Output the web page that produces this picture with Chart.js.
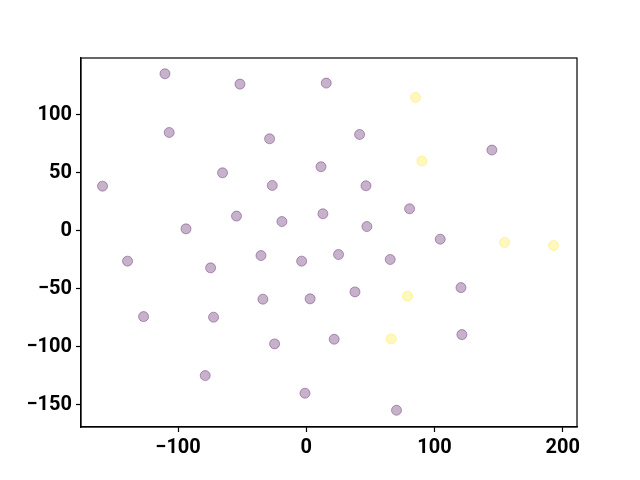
<!DOCTYPE html>
<html>
<head>
<meta charset="utf-8">
<script src="https://cdn.jsdelivr.net/npm/chart.js@4/dist/chart.umd.min.js"></script>
<style>
html,body{margin:0;padding:0;background:#fff;}
#wrap{width:640px;height:480px;position:relative;}
</style>
</head>
<body>
<div id="wrap"><canvas id="c" width="640" height="480"></canvas></div>
<script>
const purpleX = [-110.2,-51.7,-106.9,-28.6,-65.3,-158.9,-26.5,11.5,-54.4,-19.0,-93.8,13.0,15.6,41.6,144.8,46.6,80.6,47.3,104.5,-139.4,-74.6,-35.3,-3.6,-126.9,-72.3,-33.8,3.0,-24.7,-78.8,-1.0,25.2,65.5,38.0,120.7,21.8,121.4,70.4];
const purpleY = [135.3,126.4,84.7,79.3,50.0,38.5,39.1,55.2,12.7,8.0,1.7,14.7,127.3,83.0,69.6,38.8,19.0,3.7,-7.2,-26.1,-31.9,-21.3,-26.1,-73.9,-74.4,-58.9,-58.6,-97.4,-124.7,-139.9,-20.4,-24.7,-52.6,-48.9,-93.4,-89.4,-154.6];
const yellowX = [85.3,90.2,154.7,192.9,79.0,66.3];
const yellowY = [114.9,60.1,-10.1,-12.7,-56.3,-93.1];
const xTicks = [-100,0,100,200];
const yTicks = [-150,-100,-50,0,50,100];

const toPts = (xs, ys) => xs.map((x,i)=>({x:x, y:ys[i]}));

const framePlugin = {
  id:'frame',
  afterDatasetsDraw(chart){
    const a = chart.chartArea, ctx = chart.ctx;
    ctx.save();
    ctx.strokeStyle = '#000';
    ctx.lineWidth = 1.2;
    ctx.strokeRect(a.left, a.top, a.right-a.left, a.bottom-a.top);
    ctx.restore();
  }
};

const fmt = v => String(v).replace('-', '\u2212');

new Chart(document.getElementById('c'), {
  type:'scatter',
  data:{datasets:[
    {data:toPts(purpleX,purpleY), backgroundColor:'rgba(68,1,84,0.3)', borderColor:'rgba(68,1,84,0.36)', borderWidth:1, pointRadius:5, pointHoverRadius:5},
    {data:toPts(yellowX,yellowY), backgroundColor:'rgba(253,231,37,0.3)', borderColor:'rgba(253,231,37,0.36)', borderWidth:1, pointRadius:5, pointHoverRadius:5}
  ]},
  options:{
    responsive:false, animation:false,
    layout:{padding:{left:0, top:58, right:63, bottom:0}},
    plugins:{legend:{display:false}, tooltip:{enabled:false}},
    scales:{
      x:{type:'linear', min:-175.7, max:211.2,
        afterBuildTicks:s=>{s.ticks = xTicks.map(v=>({value:v}));},
        afterFit:s=>{s.height = 53;},
        grid:{drawOnChartArea:false, color:'#000', tickLength:5, tickWidth:1.2},
        border:{display:true, color:'#000', width:1.2},
        ticks:{color:'#000', font:{family:'Roboto', weight:'bold', size:20}, padding:4, maxRotation:0, callback:v=>fmt(v)}
      },
      y:{type:'linear', min:-169, max:148.9,
        afterBuildTicks:s=>{s.ticks = yTicks.map(v=>({value:v}));},
        afterFit:s=>{s.width = 81;},
        grid:{drawOnChartArea:false, color:'#000', tickLength:5, tickWidth:1.2},
        border:{display:true, color:'#000', width:1.2},
        ticks:{color:'#000', font:{family:'Roboto', weight:'bold', size:20}, padding:4, callback:v=>fmt(v)}
      }
    }
  },
  plugins:[framePlugin]
});
</script>
</body>
</html>
